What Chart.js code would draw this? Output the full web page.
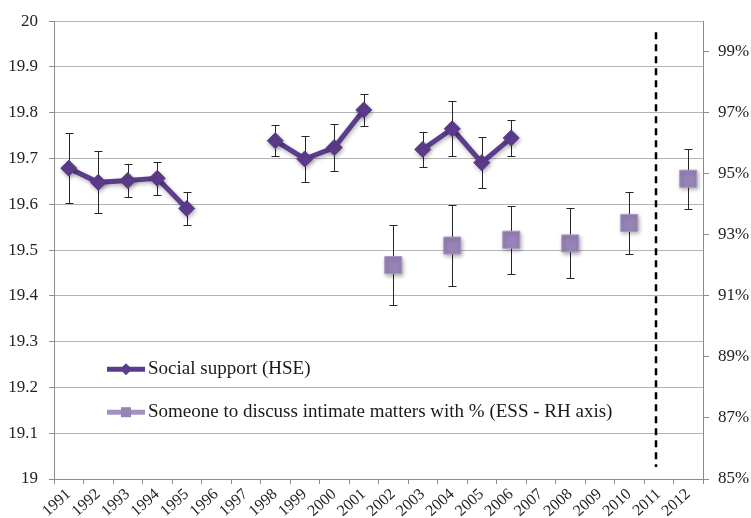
<!DOCTYPE html>
<html>
<head>
<meta charset="utf-8">
<script src="https://cdn.jsdelivr.net/npm/chart.js@4.4.1/dist/chart.umd.min.js"></script>
<style>
  html, body { margin: 0; padding: 0; background: #fff; }
  #wrap { width: 751px; height: 518px; }
</style>
</head>
<body>
<div id="wrap"><canvas id="c" width="751" height="518"></canvas></div>
<script>
// Survey years on the category axis
const years = ['1991','1992','1993','1994','1995','1996','1997','1998','1999','2000','2001',
               '2002','2003','2004','2005','2006','2007','2008','2009','2010','2011','2012'];

// Social support score (HSE), left axis, with +/- error
const hseValues = [19.679, 19.648, 19.652, 19.657, 19.591, null, null, 19.739, 19.699, 19.724, 19.806,
                   null, 19.720, 19.765, 19.691, 19.745, null, null, null, null, null, null];
const hseErrors = [0.077, 0.068, 0.035, 0.036, 0.036, null, null, 0.034, 0.050, 0.051, 0.034,
                   null, 0.039, 0.060, 0.055, 0.040, null, null, null, null, null, null];

// Someone to discuss intimate matters with, % (ESS), right axis, with +/- error
const essValues = [null, null, null, null, null, null, null, null, null, null, null,
                   92.01, null, 92.65, null, 92.84, null, 92.72, null, 93.39, null, 94.84];
const essErrors = [null, null, null, null, null, null, null, null, null, null, null,
                   1.31, null, 1.33, null, 1.11, null, 1.15, null, 1.02, null, 0.98];

// Axis ticks
const leftTicks = [19, 19.1, 19.2, 19.3, 19.4, 19.5, 19.6, 19.7, 19.8, 19.9, 20];
const rightTicks = [85, 87, 89, 91, 93, 95, 97, 99];

// Position of the dashed separator (between 2010 and 2012 surveys)
const separatorIndex = 19.9;

const seriesNames = ['Social support (HSE)', 'Someone to discuss intimate matters with % (ESS - RH axis)'];

const HSE_COLOR = '#5c3c8c';
const ESS_COLOR = '#9783b6';
const ESS_LINE = '#a292c2';
const SERIF = '"Liberation Serif", "DejaVu Serif", serif';

const errorSets = [hseErrors, essErrors];

// Vertical error bars with caps, drawn beneath the markers
const errorBars = {
  id: 'errorBars',
  beforeDatasetsDraw(chart) {
    const ctx = chart.ctx;
    const xs = chart.scales.x;
    ctx.save();
    ctx.strokeStyle = '#262626';
    ctx.lineWidth = 1;
    chart.data.datasets.forEach((ds, i) => {
      const ys = chart.scales[ds.yAxisID];
      const errs = errorSets[i];
      ds.data.forEach((v, j) => {
        const e = errs[j];
        if (v == null || e == null) return;
        const px = Math.round(xs.getPixelForValue(j)) + 0.5;
        const top = Math.round(ys.getPixelForValue(v + e)) + 0.5;
        const bot = Math.round(ys.getPixelForValue(v - e)) + 0.5;
        ctx.beginPath();
        ctx.moveTo(px, top); ctx.lineTo(px, bot);
        ctx.moveTo(px - 4, top); ctx.lineTo(px + 4, top);
        ctx.moveTo(px - 4, bot); ctx.lineTo(px + 4, bot);
        ctx.stroke();
      });
    });
    ctx.restore();
  }
};

// Soft drop shadow under lines and markers
const markerShadow = {
  id: 'markerShadow',
  beforeDatasetDraw(chart) {
    const ctx = chart.ctx;
    ctx.save();
    ctx.shadowColor = 'rgba(0,0,0,0.30)';
    ctx.shadowBlur = 4;
    ctx.shadowOffsetX = 1;
    ctx.shadowOffsetY = 2;
  },
  afterDatasetDraw(chart) {
    chart.ctx.restore();
  }
};

// Dashed vertical separator
const separator = {
  id: 'separator',
  afterDatasetsDraw(chart) {
    const ctx = chart.ctx;
    const x = Math.round(chart.scales.x.getPixelForValue(separatorIndex));
    const y = chart.scales.y;
    ctx.save();
    ctx.strokeStyle = '#000';
    ctx.lineWidth = 2.5;
    ctx.setLineDash([7, 5]);
    ctx.beginPath();
    ctx.moveTo(x, y.getPixelForValue(19.976));
    ctx.lineTo(x, y.getPixelForValue(19.026));
    ctx.stroke();
    ctx.restore();
  }
};

// Legend drawn inside the plot area
const innerLegend = {
  id: 'innerLegend',
  afterDraw(chart) {
    const ctx = chart.ctx;
    const a = chart.chartArea;
    const x0 = a.left + 53, x1 = a.left + 91, tx = a.left + 94;
    const rows = [a.top + 348, a.top + 391];
    ctx.save();
    // HSE entry
    let y = rows[0];
    ctx.strokeStyle = HSE_COLOR; ctx.lineWidth = 5; ctx.lineCap = 'butt';
    ctx.beginPath(); ctx.moveTo(x0, y); ctx.lineTo(x1, y); ctx.stroke();
    const cx = (x0 + x1) / 2;
    ctx.fillStyle = HSE_COLOR;
    ctx.beginPath();
    ctx.moveTo(cx - 6, y); ctx.lineTo(cx, y - 6); ctx.lineTo(cx + 6, y); ctx.lineTo(cx, y + 6);
    ctx.closePath(); ctx.fill();
    // ESS entry
    y = rows[1];
    ctx.strokeStyle = ESS_LINE;
    ctx.beginPath(); ctx.moveTo(x0, y); ctx.lineTo(x1, y); ctx.stroke();
    ctx.fillStyle = ESS_COLOR;
    ctx.fillRect(cx - 5, y - 5, 10, 10);
    // Labels
    ctx.fillStyle = '#1a1a1a';
    ctx.font = '19px ' + SERIF;
    ctx.textBaseline = 'middle';
    ctx.textAlign = 'left';
    ctx.fillText(seriesNames[0], tx, rows[0]);
    ctx.fillText(seriesNames[1], tx, rows[1]);
    ctx.restore();
  }
};

const axisColor = '#8c8c8c';
const tickFont = { family: SERIF, size: 17 };

new Chart(document.getElementById('c'), {
  type: 'line',
  data: {
    labels: years,
    datasets: [
      {
        label: seriesNames[0],
        data: hseValues,
        yAxisID: 'y',
        borderColor: HSE_COLOR,
        backgroundColor: HSE_COLOR,
        borderWidth: 5,
        pointStyle: 'rectRot',
        pointRadius: 8,
        pointBackgroundColor: HSE_COLOR,
        pointBorderColor: HSE_COLOR,
        pointBorderWidth: 1,
        spanGaps: false,
        tension: 0
      },
      {
        label: seriesNames[1],
        data: essValues,
        yAxisID: 'y2',
        showLine: false,
        borderColor: ESS_LINE,
        backgroundColor: ESS_COLOR,
        pointStyle: 'rect',
        pointRadius: 12,
        pointBackgroundColor: ESS_COLOR,
        pointBorderColor: '#a998c6',
        pointBorderWidth: 1
      }
    ]
  },
  options: {
    responsive: false,
    animation: false,
    layout: { padding: { top: 19, left: 0, right: 0, bottom: 0 } },
    plugins: { legend: { display: false }, tooltip: { enabled: false } },
    scales: {
      x: {
        type: 'category',
        offset: true,
        grid: { offset: true, drawOnChartArea: false, drawTicks: true, tickLength: 5, color: axisColor },
        border: { color: axisColor },
        ticks: { minRotation: 42, maxRotation: 42, autoSkip: false, padding: 1,
                 font: { family: SERIF, size: 16 }, color: '#222' },
        afterFit(s) { s.height = 39; }
      },
      y: {
        position: 'left',
        min: 19, max: 20,
        afterBuildTicks(s) { s.ticks = leftTicks.map(v => ({ value: v })); },
        grid: { color: '#b4b4b4', tickColor: axisColor, tickLength: 5 },
        border: { color: axisColor },
        ticks: { padding: 11, font: tickFont, color: '#222',
                 callback: v => String(+Number(v).toFixed(1)) },
        afterFit(s) { s.width = 54; }
      },
      y2: {
        position: 'right',
        min: 85, max: 100,
        afterBuildTicks(s) { s.ticks = rightTicks.map(v => ({ value: v })); },
        grid: { drawOnChartArea: false, color: axisColor, tickLength: 6 },
        border: { color: axisColor },
        ticks: { padding: 9, font: tickFont, color: '#222', callback: v => v + '%' },
        afterFit(s) { s.width = 48; }
      }
    }
  },
  plugins: [errorBars, markerShadow, separator, innerLegend]
});
</script>
</body>
</html>
